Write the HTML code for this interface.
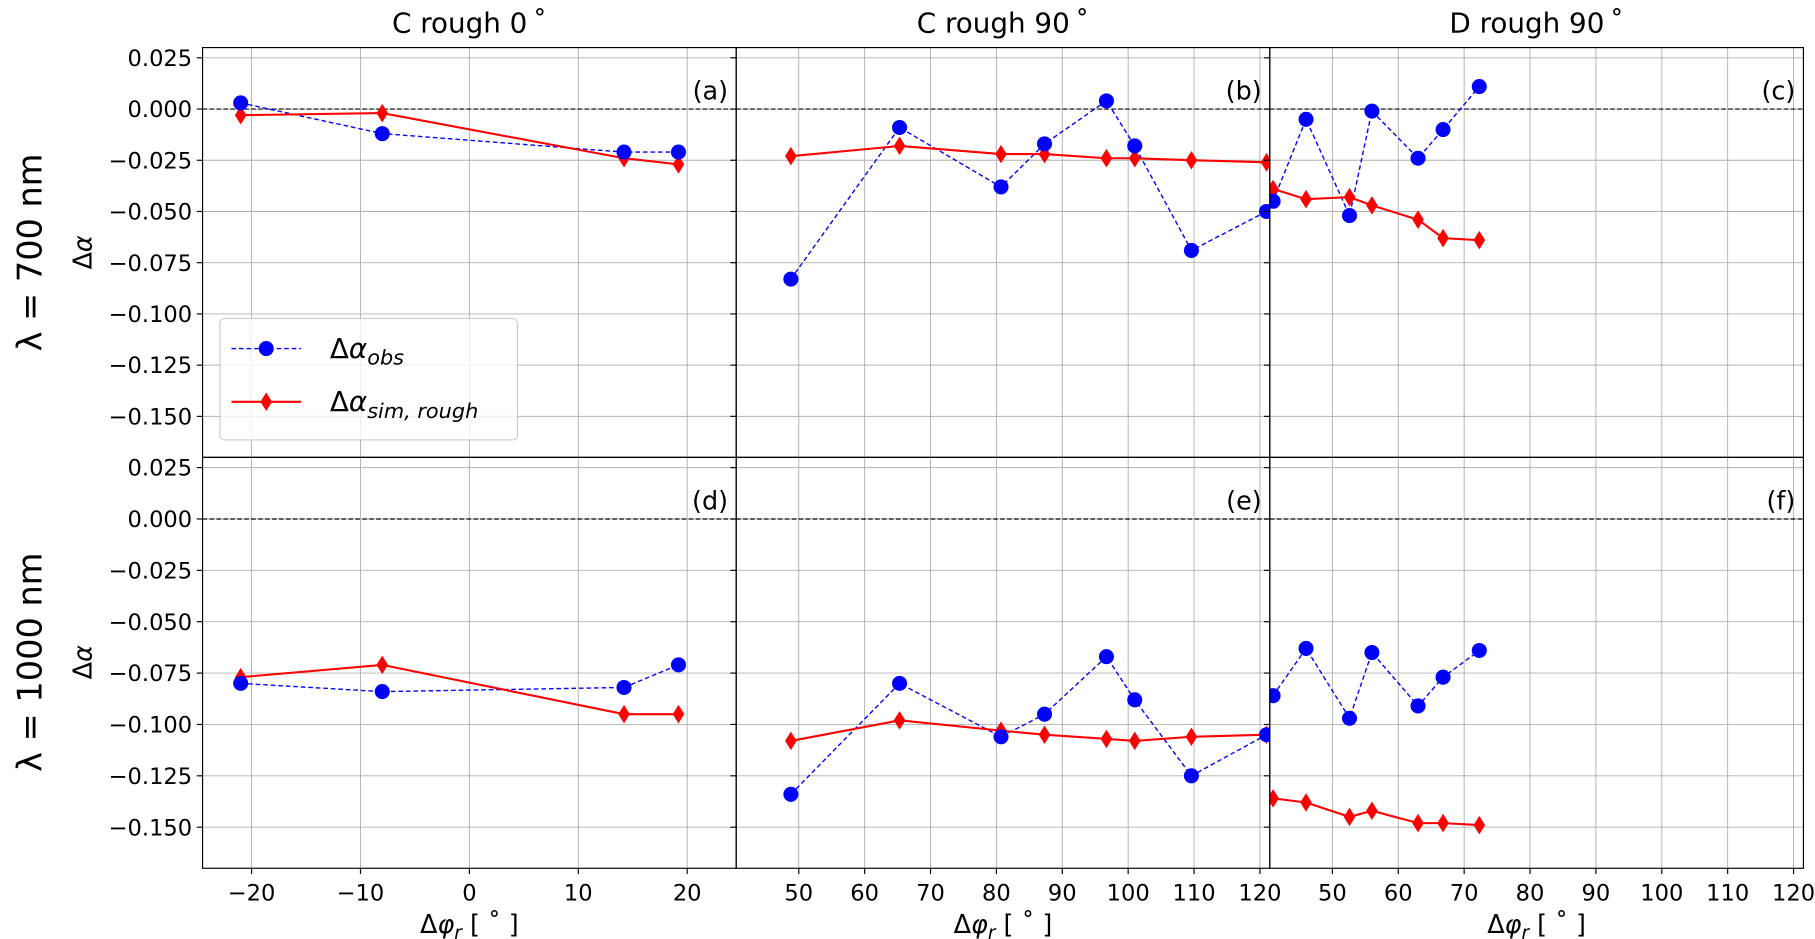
<!DOCTYPE html>
<html><head><meta charset="utf-8"><style>
body{margin:0;background:#fff}
svg{display:block;font-family:"DejaVu Sans","Liberation Sans",sans-serif}
</style></head><body>
<svg id="chart" width="1815" height="939" viewBox="0 0 1568 811" xmlns="http://www.w3.org/2000/svg"></svg>
<script>
const xC1 = [-21, -8, 14.2, 19.2];
const xC90 = [48.8, 65.3, 80.7, 87.3, 96.7, 101, 109.6, 121];
const xD90 = [41, 46, 52.6, 56, 63, 66.8, 72.3];
const obsA = [0.003, -0.012, -0.021, -0.021];
const simA = [-0.003, -0.002, -0.024, -0.027];
const obsB = [-0.083, -0.009, -0.038, -0.017, 0.004, -0.018, -0.069, -0.050];
const simB = [-0.023, -0.018, -0.022, -0.022, -0.024, -0.024, -0.025, -0.026];
const obsC = [-0.045, -0.005, -0.052, -0.001, -0.024, -0.010, 0.011];
const simC = [-0.039, -0.044, -0.043, -0.047, -0.054, -0.063, -0.064];
const obsD = [-0.080, -0.084, -0.082, -0.071];
const simD = [-0.077, -0.071, -0.095, -0.095];
const obsE = [-0.134, -0.080, -0.106, -0.095, -0.067, -0.088, -0.125, -0.105];
const simE = [-0.108, -0.098, -0.103, -0.105, -0.107, -0.108, -0.106, -0.105];
const obsF = [-0.086, -0.063, -0.097, -0.065, -0.091, -0.077, -0.064];
const simF = [-0.136, -0.138, -0.145, -0.142, -0.148, -0.148, -0.149];
const yTicks = [0.025, 0, -0.025, -0.05, -0.075, -0.1, -0.125, -0.15];
const yTickLabels = ["0.025","0.000","\u22120.025","\u22120.050","\u22120.075","\u22120.100","\u22120.125","\u22120.150"];
const xTicks1 = [-20, -10, 0, 10, 20];
const xTicks1Labels = ["\u221220","\u221210","0","10","20"];
const xTicks2 = [50, 60, 70, 80, 90, 100, 110, 120];
const colTitles = ["C rough 0\u2009\u02da", "C rough 90\u2009\u02da", "D rough 90\u2009\u02da"];
const panelLetters = ["(a)","(b)","(c)","(d)","(e)","(f)"];

const NS = "http://www.w3.org/2000/svg";
const svg = document.getElementById('chart');
function mk(tag, attrs, parent, text) {
  const e = document.createElementNS(NS, tag);
  for (const k in attrs) e.setAttribute(k, attrs[k]);
  if (text !== undefined) e.textContent = text;
  (parent || svg).appendChild(e);
  return e;
}
const colX = [175, 636, 1097], colW = 461;
const rowY = [41, 395], rowH = [354, 355];
const xlims = [[-24.5, 24.5], [40.5, 121.5], [40.5, 121.5]];
const ylim = [-0.17, 0.03];
function sx(c, v) { return colX[c] + (v - xlims[c][0]) / (xlims[c][1] - xlims[c][0]) * colW; }
function sy(r, v) { return rowY[r] + (ylim[1] - v) / (ylim[1] - ylim[0]) * rowH[r]; }

const xs = [xC1, xC90, xD90];
const obs = [[obsA, obsB, obsC], [obsD, obsE, obsF]];
const sim = [[simA, simB, simC], [simD, simE, simF]];

for (let r = 0; r < 2; r++) for (let c = 0; c < 3; c++) {
  const g = mk('g', {});
  
  
  const x0 = colX[c], y0 = rowY[r], h = rowH[r];
  const ticks = c === 0 ? xTicks1 : xTicks2;
  ticks.forEach(t => {
    const gl = mk('line', {x1: sx(c,t), x2: sx(c,t), y1: y0, y2: y0+h, stroke: '#b0b0b0', 'stroke-width': 0.8}, g);
    
    
  });
  yTicks.forEach(t => {
    const gl = mk('line', {x1: x0, x2: x0+colW, y1: sy(r,t), y2: sy(r,t), stroke: '#b0b0b0', 'stroke-width': 0.8}, g);
    
    
  });
  const zl = mk('line', {x1: x0, x2: x0+colW, y1: sy(r,0), y2: sy(r,0), stroke: '#000', 'stroke-width': 1, 'stroke-dasharray': '4,2'}, g);
  
  
  const X = xs[c], O = obs[r][c], S = sim[r][c];
  const pO = X.map((v,i) => sx(c,v).toFixed(1) + ',' + sy(r,O[i]).toFixed(1)).join(' ');
  const pS = X.map((v,i) => sx(c,v).toFixed(1) + ',' + sy(r,S[i]).toFixed(1)).join(' ');
  const clipId = 'clip' + r + c;
  const cp = mk('clipPath', {id: clipId}, g);
  mk('rect', {x: x0, y: y0, width: colW, height: h}, cp);
  const sg = mk('g', {'clip-path': 'url(#' + clipId + ')'}, g);
  const lo = mk('polyline', {points: pO, fill: 'none', stroke: '#0000ff', 'stroke-width': 1.2, 'stroke-dasharray': '4,2.5'}, sg);
  
  
  const ls = mk('polyline', {points: pS, fill: 'none', stroke: '#ff0000', 'stroke-width': 1.8}, sg);
  
  
  X.forEach((v,i) => {
    const px = sx(c,v), py = sy(r,S[i]);
    const d = mk('polygon', {points: `${px},${py-8} ${px+5},${py} ${px},${py+8} ${px-5},${py}`, fill: '#ff0000'}, sg);
    
    
  });
  X.forEach((v,i) => {
    const ci = mk('circle', {cx: sx(c,v), cy: sy(r,O[i]), r: 6.5, fill: '#0000ff'}, sg);
    
    
  });
  const pl = mk('text', {x: x0+colW-7, y: y0+45, 'text-anchor': 'end', 'font-size': 22}, g, panelLetters[r*3+c]);
  
  
  const fr = mk('rect', {x: x0, y: y0, width: colW, height: h, fill: 'none', stroke: '#000', 'stroke-width': 1}, g);
  
  
  if (c === 0) {
    yTicks.forEach((t,i) => {
      mk('line', {x1: x0-5, x2: x0, y1: sy(r,t), y2: sy(r,t), stroke: '#000'}, g);
      const tl = mk('text', {x: x0-9, y: sy(r,t)+7, 'text-anchor': 'end', 'font-size': 19.5}, g, yTickLabels[i]);
      
      
    });
  } else {
    yTicks.forEach(t => mk('line', {x1: x0-5, x2: x0, y1: sy(r,t), y2: sy(r,t), stroke: '#000'}, g));
  }
  if (r === 1) {
    ticks.forEach((t,i) => {
      mk('line', {x1: sx(c,t), x2: sx(c,t), y1: y0+h, y2: y0+h+5, stroke: '#000'}, g);
      const tl = mk('text', {x: sx(c,t), y: y0+h+28, 'text-anchor': 'middle', 'font-size': 19.5}, g, c === 0 ? xTicks1Labels[i] : String(t));
      
      
    });
    const xl = mk('text', {x: x0+colW/2, y: 806, 'text-anchor': 'middle', 'font-size': 22}, g);
    
    
    mk('tspan', {}, xl, 'Δ');
    mk('tspan', {'font-style': 'italic'}, xl, 'φ');
    mk('tspan', {'font-style': 'italic', 'font-size': 16, dy: 5}, xl, 'r');
    mk('tspan', {dy: -5}, xl, ' [ \u02da ]');
  }
  if (r === 0) {
    const ct = mk('text', {x: x0+colW/2, y: 28, 'text-anchor': 'middle', 'font-size': 24}, g, colTitles[c]);
    
    
  }
}
[["λ = 700 nm", 41+177], ["λ = 1000 nm", 395+177]].forEach((lab, r) => {
  const t = mk('text', {x: 0, y: 0, transform: `translate(36,${lab[1]}) rotate(-90)`, 'text-anchor': 'middle', 'font-size': 29}, svg, lab[0]);
  
  
  const yl = mk('text', {x: 0, y: 0, transform: `translate(79,${lab[1]}) rotate(-90)`, 'text-anchor': 'middle', 'font-size': 22}, svg);
  
  
  mk('tspan', {}, yl, 'Δ');
  mk('tspan', {'font-style': 'italic'}, yl, 'α');
});
const lg = mk('g', {});


mk('rect', {x: 190, y: 275, width: 257, height: 105, rx: 4, fill: 'rgba(255,255,255,0.8)', stroke: '#ccc'}, lg);
mk('line', {x1: 200, x2: 260, y1: 301, y2: 301, stroke: '#0000ff', 'stroke-width': 1.2, 'stroke-dasharray': '4,2.5'}, lg);
mk('circle', {cx: 230, cy: 301, r: 6.5, fill: '#0000ff'}, lg);
const t1 = mk('text', {x: 285, y: 309, 'font-size': 24}, lg);


mk('tspan', {}, t1, 'Δ'); mk('tspan', {'font-style': 'italic'}, t1, 'α');
mk('tspan', {'font-style': 'italic', 'font-size': 18, dy: 6}, t1, 'obs');
mk('line', {x1: 200, x2: 260, y1: 347, y2: 347, stroke: '#ff0000', 'stroke-width': 1.8}, lg);
mk('polygon', {points: '230,339 235,347 230,355 225,347', fill: '#ff0000'}, lg);
const t2 = mk('text', {x: 285, y: 355, 'font-size': 24}, lg);


mk('tspan', {}, t2, 'Δ'); mk('tspan', {'font-style': 'italic'}, t2, 'α');
mk('tspan', {'font-style': 'italic', 'font-size': 18, dy: 6}, t2, 'sim, rough');
</script>
</body></html>
